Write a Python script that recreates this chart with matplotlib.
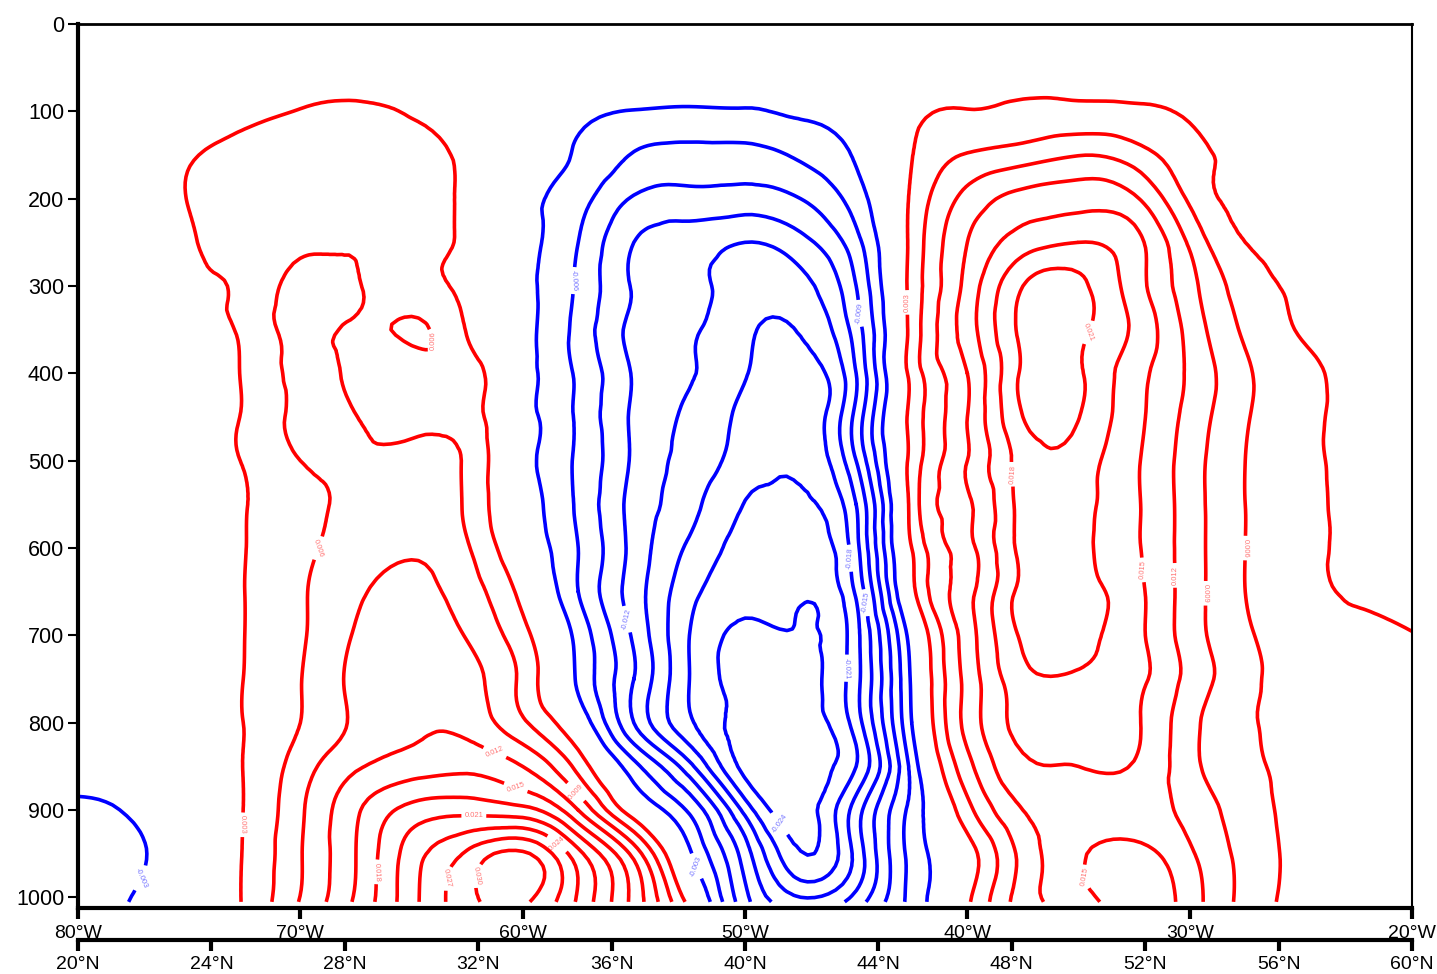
import numpy as np
import matplotlib.pyplot as plt
import matplotlib.tri as mtri

plt.rcParams['font.family'] = ['Liberation Sans', 'DejaVu Sans']

# cross-section from 20N,80W to 60N,20W
lons = np.linspace(-80, -20, 25)
lats = [20, 24, 28, 32, 36, 40, 44, 48, 52, 56, 60]
pres = [0, 50, 100, 150, 200, 250, 300, 350, 400, 450, 500,
        550, 600, 650, 700, 750, 800, 850, 900, 950, 1005]

# vertical section values (x 1e-3), one row per pressure level
p0 = [0] * 25
p50 = [0, 0, 0.5, 1, 1.5, 2, 2, 1.5, 0, -1, -1.5, -2, -2, -1.5, -1, 0.5, 1.5, 2, 2.2, 2, 1.8, 1.2, 0.8, 0.3, 0]
p100 = [0, 0.5, 1, 2.2, 3.1, 3.3, 2.9, 1.8, -0.5, -2.2, -3.1, -3.3, -3.2, -2.6, -1.5, 2.2, 3.1, 3.5, 3.6, 3.4, 2.7, 1.8, 1.2, 0.8, 0.5]
p150 = [0, 1, 2.7, 4, 4.5, 4.6, 3.8, 2.2, -1.5, -3.3, -6.2, -7, -7, -5.5, -2.6, 2.9, 6.2, 7.5, 8.9, 7.5, 4, 2.3, 1.5, 1, 0.5]
p200 = [0, 1.2, 3.1, 4.5, 5, 5.5, 4.5, 2.2, -2, -4.8, -9.3, -10, -10.3, -9, -4.5, 3.5, 10, 13, 13.8, 12.5, 5.5, 2.2, 1.8, 1.2, 0.8]
p250 = [0, 0.8, 2.6, 4.8, 5.5, 5.9, 5, 2, -2, -6, -12, -13.5, -15, -13, -7, 3.8, 12, 16.5, 18, 16, 8.5, 3.0, 2, 1.3, 0.8]
p300 = [0, 0.8, 2.3, 3.8, 7, 6.3, 4, 2.2, -2, -6.5, -12.3, -14, -17, -16, -9, 4, 13, 21, 21.8, 16.5, 10, 4.5, 2.5, 1.5, 1]
p350 = [0, 0.5, 1.8, 3.6, 7, 5.5, 6.4, 2.8, -2, -7, -12.8, -14.5, -17.5, -17.8, -10.5, 4, 13.5, 21.8, 21.8, 17.5, 11, 5.5, 2.8, 1.5, 1]
p400 = [0, 0.5, 1.8, 3.3, 6.8, 5, 4.2, 4.5, -1.5, -6.5, -12.3, -14.8, -17.8, -19.5, -12, 4, 12, 21.6, 21.5, 16.3, 11.5, 6.5, 3.8, 2, 1]
p450 = [0, 0.5, 1.6, 3.3, 6.8, 6.1, 4.5, 4.5, -1.5, -6.5, -12.5, -15.5, -19, -20.5, -11, 4, 12, 21, 21.1, 16, 11, 6.3, 3.8, 2, 1]
p500 = [0, 0.3, 1.5, 3.2, 6, 6.5, 7, 5.5, -1.5, -6.5, -12.5, -16, -19.5, -20.5, -12, 4, 12, 19.3, 19.6, 15.5, 10.5, 6, 3.8, 2, 1]
p550 = [0, 0.3, 1.5, 2.9, 5, 6.8, 8, 5.5, -1, -6.5, -13, -17, -21.1, -21.5, -15, 4, 11.5, 19.2, 19.3, 15.5, 10.5, 6, 3.8, 2.2, 1]
p600 = [0, 0.3, 1.5, 2.95, 5.2, 7.5, 8.7, 6.3, 0, -6, -13, -18.5, -22, -22.5, -16, 3, 11, 19, 19, 15.5, 10.5, 6, 3.6, 2.5, 1.2]
p650 = [0, 0.3, 1.5, 3.0, 5.6, 8.5, 9.8, 7.5, 2, -6, -13.5, -20, -23, -23.5, -17.5, 2, 11, 19, 19.5, 16, 10.5, 6, 3.6, 2.8, 2]
p700 = [0, 0.3, 1.5, 3.0, 5.6, 9.3, 11, 8.8, 4, -4, -12.5, -21, -24.5, -24.2, -19, -1.5, 10.5, 18.5, 19, 16, 10.5, 6.5, 4, 3.5, 3.1]
p750 = [0, 0.3, 1.5, 3.05, 5.9, 9.8, 11.5, 10, 5.2, -3.5, -12, -21, -25, -25, -19, -2.5, 10, 17, 17.5, 16, 11, 7, 4.2, 3.8, 3.5]
p800 = [0, 0.3, 1.5, 3.05, 6, 9.5, 11.5, 11, 6.5, -0.5, -12, -20.5, -25, -25, -19.5, -3, 10, 16, 16.5, 15.5, 10, 6.5, 4.5, 4, 3.6]
p850 = [-1.5, -0.5, 1.5, 3.1, 7.5, 11.6, 13.5, 14.3, 12, 5, -5, -14, -25, -25.5, -21, -5, 8, 14.5, 15, 14.8, 10, 6.8, 4.8, 4.2, 3.7]
p900 = [-3.5, -2.5, 0.5, 3.1, 8.5, 14.5, 19, 20, 19, 12, 1, -6.5, -19, -25.5, -16.5, -5, 5, 12, 13.5, 13.5, 11, 7.5, 5, 4.3, 3.8]
p950 = [-4.5, -3.8, 0, 3.2, 8.8, 15, 22.5, 27.5, 30.5, 22, 11, -2.5, -13.5, -23.8, -17, -5, 1.5, 10, 14.5, 16, 12.5, 8, 5.2, 4.4, 3.9]
p1005 = [-4, -2.8, 0, 3.3, 9.2, 15.5, 23, 29, 30.5, 23.5, 14, 2, -11, -17, -13.5, -5, 2.5, 10.5, 13.5, 17, 13.5, 8, 5, 4, 3.6]

field = np.array([p0, p50, p100, p150, p200, p250, p300, p350, p400, p450, p500,
                  p550, p600, p650, p700, p750, p800, p850, p900, p950, p1005]) * 1e-3

levels = [round(v * 0.003, 3) for v in range(-8, 13) if v != 0]
colors = ['blue' if v < 0 else 'red' for v in levels]

# smooth contouring: refine the grid with matplotlib's cubic tri refiner,
# working in roughly isotropic units (degrees vs hPa scaled to screen size)
sx, sy = 22.2, 0.873
X, Y = np.meshgrid(lons, pres)
tri = mtri.Triangulation(X.ravel() * sx, np.array(Y).ravel() * sy)
refiner = mtri.UniformTriRefiner(tri)
tri_fine, z_fine = refiner.refine_field(field.ravel(), subdiv=3)
tri_fine = mtri.Triangulation(tri_fine.x / sx, tri_fine.y / sy, tri_fine.triangles)

fig = plt.figure(figsize=(14.37, 9.74), dpi=100)
ax = fig.add_axes([0.0543, 0.0678, 0.9283, 0.9076])

cs = ax.tricontour(tri_fine, z_fine, levels=levels, colors=colors,
                   linewidths=2.6, linestyles='solid')
labels = ax.clabel(cs, fmt='%.3f', fontsize=5.5, inline=True, inline_spacing=3)
for t in labels:
    t.set_alpha(0.55)

ax.set_xlim(-80, -20)
ax.set_ylim(1012, 0)
ax.set_yticks(range(0, 1001, 100))
ax.set_xticks(range(-80, -19, 10))
ax.set_xticklabels([f'{-v}\u00b0W' for v in range(-80, -19, 10)])

ax.tick_params(axis='y', direction='out', length=7, width=1.5, labelsize=15.5, pad=3)
ax.tick_params(axis='x', direction='out', length=8, width=3, labelsize=14, pad=4.5)
ax.spines['left'].set_linewidth(3)
ax.spines['bottom'].set_linewidth(3)
ax.spines['top'].set_linewidth(2)
ax.spines['right'].set_linewidth(1.5)

# latitude axis drawn as a second row below the longitude labels
ax2 = ax.twiny()
ax2.set_xlim(20, 60)
ax2.set_xticks(lats)
ax2.set_xticklabels([f'{v}\u00b0N' for v in lats])
ax2.xaxis.set_ticks_position('bottom')
ax2.xaxis.set_label_position('bottom')
ax2.spines['bottom'].set_position(('outward', 23))
ax2.spines['bottom'].set_linewidth(3)
for s in ['top', 'left', 'right']:
    ax2.spines[s].set_visible(False)
ax2.tick_params(axis='x', direction='out', length=8, width=3, labelsize=14, pad=3.5)

fig.savefig('out.png', dpi=100)
